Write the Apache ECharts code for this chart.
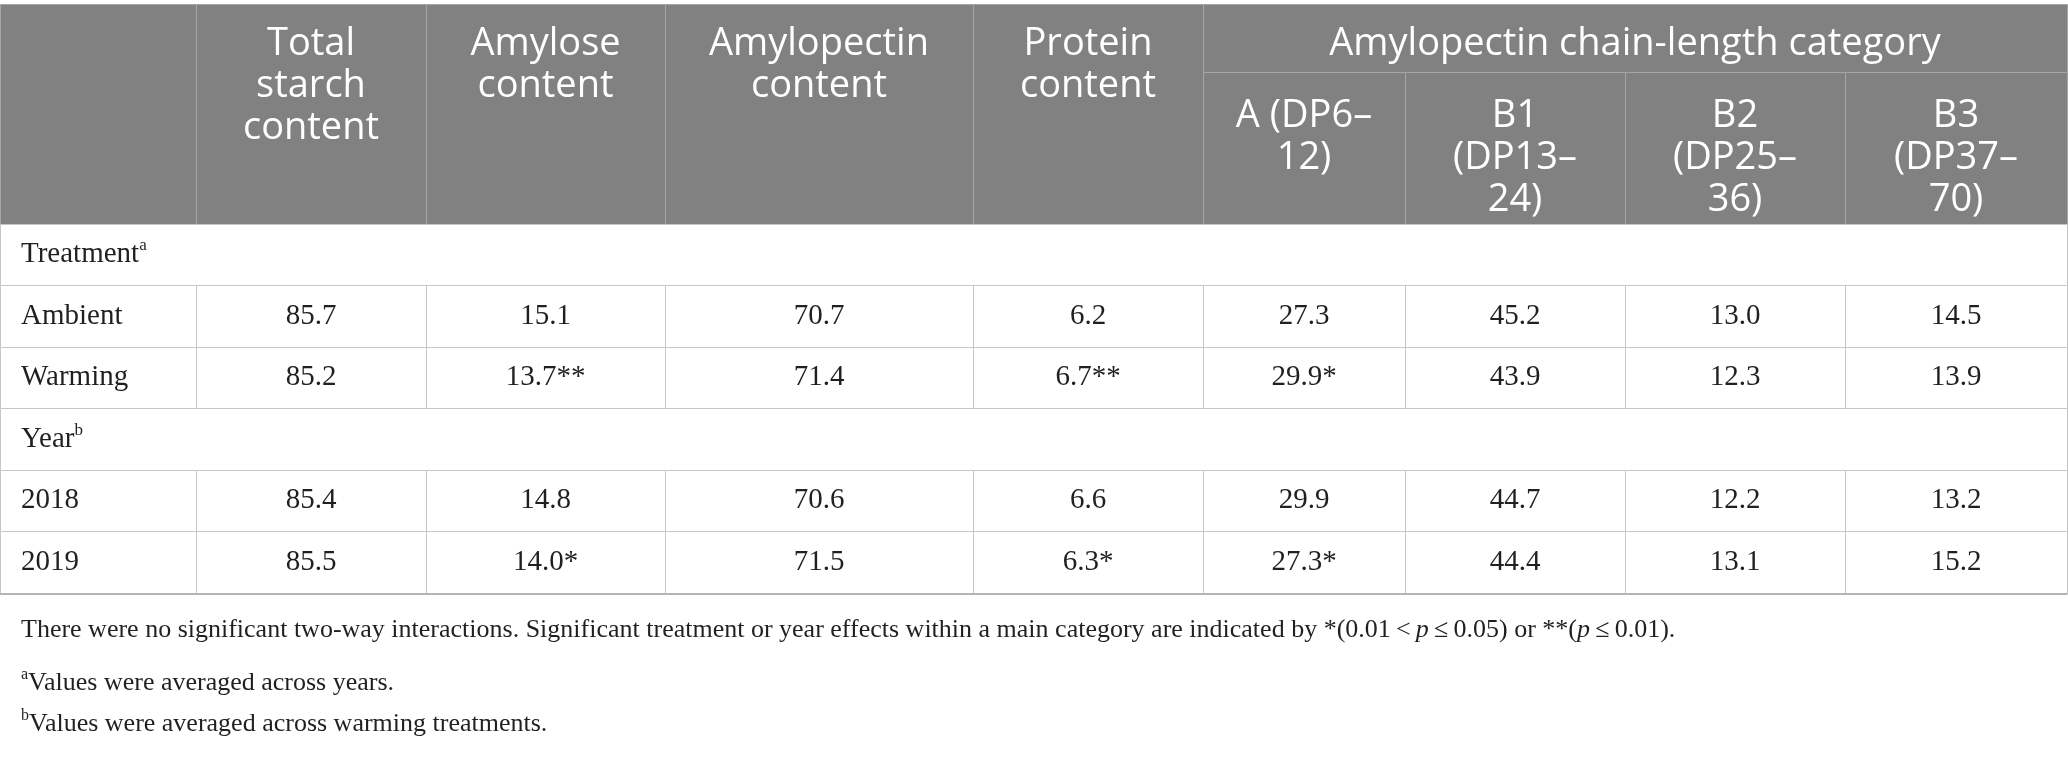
<!DOCTYPE html>
<html>
<head>
<meta charset="utf-8">
<script src="https://cdn.jsdelivr.net/npm/echarts/dist/echarts.min.js"></script>
<style>
html,body{margin:0;padding:0;background:#fff;}
#chart{width:2068px;height:771px;}
</style>
</head>
<body>
<div id="chart"></div>
<script>
// ---------------- DATA ----------------
const headerColumns = ['', 'Total\nstarch\ncontent', 'Amylose\ncontent', 'Amylopectin\ncontent', 'Protein\ncontent'];
const groupHeader = 'Amylopectin chain-length category';
const chainCategories = ['A (DP6–\n12)', 'B1\n(DP13–\n24)', 'B2\n(DP25–\n36)', 'B3\n(DP37–\n70)'];
const sectionLabels = ['Treatment', 'Year'];
const sectionNotes = ['a', 'b'];
const rowLabels = ['Ambient', 'Warming', '2018', '2019'];
const rowSection = [0, 0, 1, 1];
const totalStarch = [85.7, 85.2, 85.4, 85.5];
const totalStarchSig = ['', '', '', ''];
const amylose = [15.1, 13.7, 14.8, 14.0];
const amyloseSig = ['', '**', '', '*'];
const amylopectin = [70.7, 71.4, 70.6, 71.5];
const amylopectinSig = ['', '', '', ''];
const protein = [6.2, 6.7, 6.6, 6.3];
const proteinSig = ['', '**', '', '*'];
const chainA = [27.3, 29.9, 29.9, 27.3];
const chainASig = ['', '*', '', '*'];
const chainB1 = [45.2, 43.9, 44.7, 44.4];
const chainB1Sig = ['', '', '', ''];
const chainB2 = [13.0, 12.3, 12.2, 13.1];
const chainB2Sig = ['', '', '', ''];
const chainB3 = [14.5, 13.9, 13.2, 15.2];
const chainB3Sig = ['', '', '', ''];
const footnoteMain = 'There were no significant two-way interactions. Significant treatment or year effects within a main category are indicated by *(0.01\u2009<\u2009{i|p}\u2009≤\u20090.05) or **({i|p}\u2009≤\u20090.01).';
const footnoteA = 'Values were averaged across years.';
const footnoteB = 'Values were averaged across warming treatments.';

// ---------------- LAYOUT / STYLE ----------------
const L = {
  width: 2068, height: 771,
  colEdges: [0, 196, 426, 665, 973, 1203, 1405, 1625, 1845, 2067],
  headTop: 4, subHead: 72, headBottom: 224,
  bodyRowEdges: [224, 285, 347, 408, 470, 531, 594],
  footY: [630, 683, 724],
  padX: 21,
  headPadTop: 19, subPadTop: 95, headLine: 42
};
const S = {
  headFill: '#808180', headStroke: '#a4a5a4', headText: '#ffffff',
  bodyStroke: '#c6c6c6', bodyText: '#231f20', bottomStroke: '#b4b4b4',
  sans: '"Open Sans", "Noto Sans", sans-serif', headSize: 38,
  serif: '"Liberation Serif", "DejaVu Serif", serif', bodySize: 29, footSize: 26
};

// ---------------- BUILD CELLS ----------------
const valueColumns = [
  [totalStarch, totalStarchSig], [amylose, amyloseSig], [amylopectin, amylopectinSig],
  [protein, proteinSig], [chainA, chainASig], [chainB1, chainB1Sig], [chainB2, chainB2Sig], [chainB3, chainB3Sig]
];
const E = L.colEdges;
const cells = [];
// header main columns
headerColumns.forEach((t, i) => {
  cells.push({x0: E[i], y0: L.headTop, x1: E[i + 1], y1: L.headBottom, fill: S.headFill, stroke: S.headStroke,
    text: t, font: 'sans', size: S.headSize, color: S.headText, align: 'center', vAlign: 'top', padTop: L.headPadTop, lineHeight: L.headLine});
});
cells.push({x0: E[5], y0: L.headTop, x1: E[9], y1: L.subHead, fill: S.headFill, stroke: S.headStroke,
  text: groupHeader, font: 'sans', size: S.headSize, color: S.headText, align: 'center', vAlign: 'top', padTop: L.headPadTop, lineHeight: L.headLine});
chainCategories.forEach((t, j) => {
  cells.push({x0: E[5 + j], y0: L.subHead, x1: E[6 + j], y1: L.headBottom, fill: S.headFill, stroke: S.headStroke,
    text: t, font: 'sans', size: S.headSize, color: S.headText, align: 'center', vAlign: 'top', padTop: L.subPadTop - L.subHead, lineHeight: L.headLine});
});
// body
const R = L.bodyRowEdges;
let r = 0;
sectionLabels.forEach((sec, s) => {
  cells.push({x0: E[0], y0: R[r], x1: E[9], y1: R[r + 1], fill: '#ffffff', stroke: S.bodyStroke,
    text: sec + '{sup|' + sectionNotes[s] + '}', font: 'serif', size: S.bodySize, color: S.bodyText, align: 'left', vAlign: 'middle', lineHeight: 34});
  r++;
  rowLabels.forEach((lab, k) => {
    if (rowSection[k] !== s) return;
    cells.push({x0: E[0], y0: R[r], x1: E[1], y1: R[r + 1], fill: '#ffffff', stroke: S.bodyStroke,
      text: lab, font: 'serif', size: S.bodySize, color: S.bodyText, align: 'left', vAlign: 'middle', lineHeight: 34});
    valueColumns.forEach((vc, c) => {
      cells.push({x0: E[c + 1], y0: R[r], x1: E[c + 2], y1: R[r + 1], fill: '#ffffff', stroke: S.bodyStroke,
        text: vc[0][k].toFixed(1) + vc[1][k], font: 'serif', size: S.bodySize, color: S.bodyText, align: 'center', vAlign: 'middle', lineHeight: 34});
    });
    r++;
  });
});
// table bottom rule
cells.push({x0: E[0], y0: R[R.length - 1], x1: E[9], y1: R[R.length - 1], line: true, stroke: S.bottomStroke, lw: 2});
// footnotes
[footnoteMain, '{sup|a}' + footnoteA, '{sup|b}' + footnoteB].forEach((t, i) => {
  cells.push({x0: E[0], y0: L.footY[i] - 20, x1: E[9], y1: L.footY[i] + 20,
    text: t, font: 'serif', size: S.footSize, color: S.bodyText, align: 'left', vAlign: 'middle', lineHeight: 32, foot: true});
});

function richFor(c) {
  const fam = c.font === 'sans' ? S.sans : S.serif;
  return {
    sup: {fontSize: Math.round(c.size * 0.6), fontFamily: fam, fill: c.color, verticalAlign: 'top', lineHeight: 18},
    i: {fontSize: c.size, fontFamily: fam, fontStyle: 'italic', fill: c.color}
  };
}

function renderItem(params, api) {
  const c = cells[params.dataIndex];
  const p0 = api.coord([c.x0, c.y0]);
  const p1 = api.coord([c.x1, c.y1]);
  const children = [];
  if (c.line) {
    children.push({type: 'line', shape: {x1: p0[0], y1: p0[1], x2: p1[0], y2: p1[1]}, style: {stroke: c.stroke, lineWidth: c.lw}});
    return {type: 'group', children};
  }
  if (c.fill) {
    children.push({type: 'rect', shape: {x: Math.round(p0[0]) + 0.5, y: Math.round(p0[1]) + 0.5, width: Math.round(p1[0] - p0[0]), height: Math.round(p1[1] - p0[1])},
      style: {fill: c.fill, stroke: c.stroke, lineWidth: 1}});
  }
  if (c.text) {
    const tx = c.align === 'left' ? p0[0] + L.padX : (p0[0] + p1[0]) / 2;
    const ty = c.vAlign === 'top' ? p0[1] + c.padTop : (p0[1] + p1[1]) / 2;
    children.push({type: 'text', style: {
      text: c.text, x: tx, y: ty, align: c.align, verticalAlign: c.vAlign,
      fontSize: c.size, fontFamily: c.font === 'sans' ? S.sans : S.serif, fill: c.color,
      lineHeight: c.lineHeight, rich: richFor(c)
    }});
  }
  return {type: 'group', children};
}

const chart = echarts.init(document.getElementById('chart'), null, {renderer: 'canvas'});
chart.setOption({
  animation: false,
  backgroundColor: '#ffffff',
  grid: {left: 0, right: 0, top: 0, bottom: 0},
  xAxis: {type: 'value', min: 0, max: L.width, show: false},
  yAxis: {type: 'value', min: 0, max: L.height, inverse: true, show: false},
  series: [{
    type: 'custom',
    coordinateSystem: 'cartesian2d',
    clip: false,
    silent: true,
    encode: {x: [0, 2], y: [1, 3]},
    data: cells.map(c => [c.x0, c.y0, c.x1, c.y1]),
    renderItem: renderItem
  }]
});
</script>
</body>
</html>
